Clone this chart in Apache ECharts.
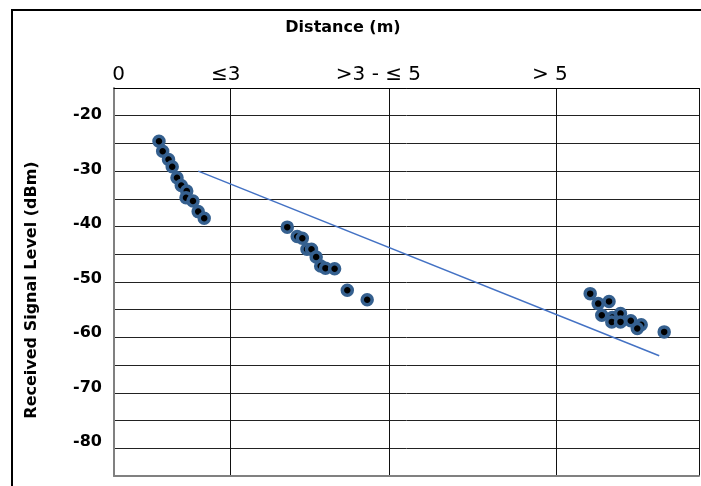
<!DOCTYPE html>
<html>
<head>
<meta charset="utf-8">
<script src="https://cdn.jsdelivr.net/npm/echarts@6/dist/echarts.min.js"></script>
<style>
html,body{margin:0;padding:0;background:#fff;}
#chart{width:701px;height:486px;}
</style>
</head>
<body>
<div id="chart"></div>
<script>
// Distance group boundaries (x position units) and top labels
const boundaries = [0, 1.986, 4.699, 7.564, 10];
const topLabels = ['0', '≤3', '>3 - ≤ 5', '> 5'];
const topLabelPos = [0.077, 1.91, 4.52, 7.45];
// Y tick labels
const yTickLabels = [-20, -30, -40, -50, -60, -70, -80];

// Group ≤3 m
const nearX = [0.769, 0.832, 0.932, 0.995, 1.077, 1.150, 1.243, 1.231, 1.350, 1.439, 1.542];
const nearY = [-24.6, -26.4, -27.9, -29.2, -31.2, -32.6, -33.6, -34.8, -35.4, -37.3, -38.5];
// Group >3 - ≤5 m
const midX = [2.962, 3.132, 3.219, 3.299, 3.376, 3.456, 3.533, 3.615, 3.771, 3.988, 4.328];
const midY = [-40.1, -41.8, -42.1, -44.1, -44.1, -45.5, -47.1, -47.5, -47.6, -51.5, -53.2];
// Group >5 m
const farX = [8.140, 8.277, 8.462, 8.338, 8.518, 8.509, 8.658, 8.658, 8.834, 9.012, 8.945, 9.405];
const farY = [-52.1, -53.9, -53.5, -56.0, -56.4, -57.2, -55.7, -57.2, -57.0, -57.7, -58.4, -59.0];
// Linear trend line endpoints
const trendX = [1.441, 9.32];
const trendY = [-30.0, -63.3];

const zip = (xs, ys) => xs.map((x, i) => [x, ys[i]]);
const points = zip(nearX, nearY).concat(zip(midX, midY), zip(farX, farY));

const chart = echarts.init(document.getElementById('chart'), null, {renderer: 'canvas'});
chart.setOption({
  backgroundColor: '#ffffff',
  animation: false,
  grid: {left: 114, top: 88, width: 585, height: 388, containLabel: false},
  xAxis: [{
    type: 'value', position: 'top', min: 0, max: 10,
    axisLine: {show: true, onZero: false, lineStyle: {color: '#000', width: 1}},
    axisTick: {show: false, customValues: boundaries},
    splitLine: {show: true, lineStyle: {color: '#111', width: 1}},
    axisLabel: {
      show: true, customValues: topLabelPos, margin: 3,
      formatter: (v, i) => topLabels[topLabelPos.indexOf(v)] ?? topLabels[i],
      color: '#000', fontFamily: 'DejaVu Sans', fontSize: 20
    }
  }, {
    type: 'value', position: 'bottom', min: 0, max: 10,
    axisLine: {show: true, onZero: false, lineStyle: {color: '#808080', width: 2}},
    axisTick: {show: false}, axisLabel: {show: false}, splitLine: {show: false}
  }],
  yAxis: [{
    type: 'value', min: -85, max: -15, interval: 5,
    axisLine: {show: true, onZero: false, lineStyle: {color: '#808080', width: 2}},
    axisTick: {show: false}, axisLabel: {show: false},
    splitLine: {show: true, lineStyle: {color: '#222', width: 1}}
  }, {
    type: 'value', position: 'left', min: -86.24, max: -15.05,
    axisLine: {show: false}, axisTick: {show: false}, splitLine: {show: false},
    axisLabel: {
      show: true, customValues: yTickLabels, margin: 12,
      color: '#000', fontFamily: 'DejaVu Sans', fontWeight: 'bold', fontSize: 16
    }
  }],
  graphic: [
    {type: 'rect', shape: {x: 12, y: 10, width: 720, height: 500},
     style: {fill: 'none', stroke: '#000', lineWidth: 2}, silent: true},
    {type: 'text', x: 343, y: 28, silent: true,
     style: {text: 'Distance (m)', fill: '#000', font: 'bold 16px "DejaVu Sans"', textAlign: 'center', textVerticalAlign: 'middle'}},
    {type: 'text', x: 32, y: 290, rotation: Math.PI / 2, silent: true,
     style: {text: 'Received Signal Level (dBm)', fill: '#000', font: 'bold 16px "DejaVu Sans"', textAlign: 'center', textVerticalAlign: 'middle'}}
  ],
  series: [{
    type: 'line', xAxisIndex: 0, yAxisIndex: 0,
    data: zip(trendX, trendY), symbol: 'none',
    lineStyle: {color: '#4472C4', width: 1.5}
  }, {
    type: 'scatter', xAxisIndex: 0, yAxisIndex: 0,
    data: points, symbol: 'circle', symbolSize: 10,
    itemStyle: {color: '#000', borderColor: '#35608f', borderWidth: 3.5, opacity: 1}
  }]
});
</script>
</body>
</html>
